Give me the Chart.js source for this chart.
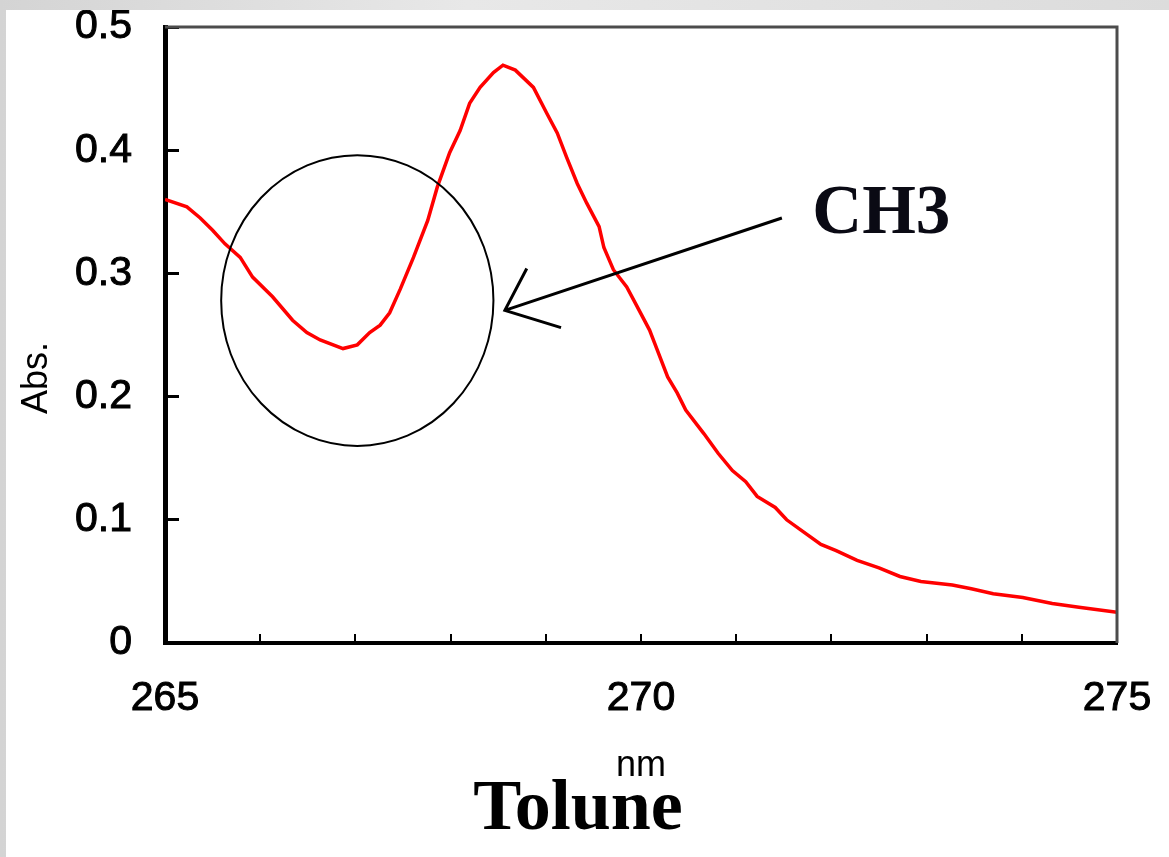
<!DOCTYPE html>
<html>
<head>
<meta charset="utf-8">
<script src="https://cdn.jsdelivr.net/npm/chart.js@4"></script>
<style>
  html, body { margin: 0; padding: 0; }
  body {
    width: 1169px; height: 857px; overflow: hidden;
    background: linear-gradient(90deg, #d4d4d4, #e8e8e8 40%, #dcdcdc);
    position: relative;
  }
  #wrap {
    position: absolute; left: 6px; top: 10px;
    width: 1163px; height: 847px; background: #fff;
  }
</style>
</head>
<body>
<div id="wrap"><canvas id="specChart" width="1163" height="847"></canvas></div>
<script>
// Spectrum (nm, absorbance)
const wavelengths = [
  265.00, 265.23, 265.37, 265.50, 265.63, 265.79, 265.92, 266.13, 266.34, 266.49,
  266.63, 266.87, 267.02, 267.15, 267.26, 267.36, 267.47, 267.61, 267.76, 267.86,
  267.99, 268.10, 268.20, 268.31, 268.45, 268.55, 268.68, 268.87, 269.01, 269.12,
  269.22, 269.33, 269.43, 269.56, 269.61, 269.71, 269.85, 269.96, 270.09, 270.14,
  270.28, 270.38, 270.47, 270.66, 270.81, 270.96, 271.10, 271.22, 271.41, 271.53,
  271.71, 271.89, 272.05, 272.27, 272.50, 272.72, 272.94, 273.27, 273.47, 273.70,
  274.01, 274.32, 274.60, 275.00
];
const absorbance = [
  0.360, 0.354, 0.345, 0.335, 0.324, 0.313, 0.297, 0.281, 0.262, 0.252,
  0.246, 0.239, 0.242, 0.252, 0.258, 0.268, 0.287, 0.313, 0.343, 0.370,
  0.398, 0.416, 0.438, 0.451, 0.463, 0.469, 0.465, 0.451, 0.430, 0.414,
  0.394, 0.373, 0.357, 0.338, 0.321, 0.303, 0.289, 0.273, 0.254, 0.244,
  0.216, 0.203, 0.189, 0.170, 0.154, 0.140, 0.131, 0.119, 0.110, 0.100,
  0.090, 0.080, 0.075, 0.067, 0.061, 0.054, 0.050, 0.047, 0.044, 0.040,
  0.037, 0.032, 0.029, 0.025
];
const xLabelled = [265, 270, 275];
const yLabels = ['0', '0.1', '0.2', '0.3', '0.4', '0.5'];

// annotation: circle round the CH3 dip and the arrow pointing at it (data units)
const circle = { x: 267.02, y: 0.278, rx: 1.43, ry: 0.118 };
const arrowTip = { x: 268.57, y: 0.270 };
const arrowTail = { x: 271.48, y: 0.345 };
const barbUp = { x: 268.80, y: 0.304 };
const barbDown = { x: 269.16, y: 0.256 };
const ch3Anchor = { x: 271.80, y: 0.333 };

const tickFont = { family: '"Liberation Sans", Arial, sans-serif', size: 41 };

function fixBox(height, width) {
  return s => {
    if (height) s.height = height;
    if (width) s.width = width;
    s.paddingLeft = s.paddingRight = s.paddingTop = s.paddingBottom = 0;
  };
}

const annotations = {
  id: 'annotations',
  afterDraw(chart) {
    const ctx = chart.ctx;
    const xs = chart.scales.x, ys = chart.scales.y;
    const area = chart.chartArea;
    const px = v => xs.getPixelForValue(v);
    const py = v => ys.getPixelForValue(v);

    ctx.save();
    // top and right frame
    ctx.strokeStyle = '#4c4c4c';
    ctx.lineWidth = 3;
    ctx.beginPath();
    ctx.moveTo(area.left, area.top);
    ctx.lineTo(area.right, area.top);
    ctx.lineTo(area.right, area.bottom);
    ctx.stroke();

    // circle
    ctx.strokeStyle = '#000';
    ctx.lineWidth = 2;
    ctx.beginPath();
    ctx.ellipse(px(circle.x), py(circle.y),
      px(circle.x + circle.rx) - px(circle.x),
      py(circle.y) - py(circle.y + circle.ry), 0, 0, Math.PI * 2);
    ctx.stroke();

    // arrow
    ctx.lineWidth = 3;
    ctx.beginPath();
    ctx.moveTo(px(arrowTail.x), py(arrowTail.y));
    ctx.lineTo(px(arrowTip.x), py(arrowTip.y));
    ctx.moveTo(px(barbUp.x), py(barbUp.y));
    ctx.lineTo(px(arrowTip.x), py(arrowTip.y));
    ctx.lineTo(px(barbDown.x), py(barbDown.y));
    ctx.stroke();

    // CH3 label
    ctx.fillStyle = '#0a0a14';
    ctx.font = 'bold 69px "Liberation Serif", "Times New Roman", serif';
    ctx.textAlign = 'left';
    ctx.textBaseline = 'alphabetic';
    ctx.fillText('CH3', px(ch3Anchor.x), py(ch3Anchor.y));

    // y axis title
    ctx.fillStyle = '#000';
    ctx.font = '36px "Liberation Sans", Arial, sans-serif';
    ctx.translate(31, 368);
    ctx.rotate(-Math.PI / 2);
    ctx.textAlign = 'center';
    ctx.textBaseline = 'middle';
    ctx.fillText('Abs.', 0, 0);
    ctx.restore();
  }
};

const ctx = document.getElementById('specChart').getContext('2d');
new Chart(ctx, {
  type: 'line',
  data: {
    datasets: [{
      data: wavelengths.map((w, i) => ({ x: w, y: absorbance[i] })),
      borderColor: '#ff0000',
      borderWidth: 3.5,
      pointRadius: 0,
      tension: 0,
      fill: false
    }]
  },
  options: {
    responsive: false,
    animation: false,
    devicePixelRatio: 1,
    layout: { padding: { left: 33, right: 52, top: 17, bottom: 0 } },
    plugins: {
      legend: { display: false },
      tooltip: { enabled: false },
      title: {
        display: true,
        position: 'bottom',
        text: 'Tolune',
        color: '#000',
        font: { family: '"Liberation Serif", "Times New Roman", serif', size: 72, weight: 'bold', lineHeight: 1 },
        padding: { top: 0, bottom: 11 }
      }
    },
    scales: {
      x: {
        type: 'linear',
        min: 265,
        max: 275,
        afterFit: fixBox(131, 0),
        ticks: {
          stepSize: 1,
          autoSkip: false,
          maxRotation: 0,
          padding: 40,
          color: '#000',
          textStrokeColor: '#000',
          textStrokeWidth: 1,
          font: tickFont,
          callback: v => xLabelled.includes(v) ? String(v) : ''
        },
        grid: { drawOnChartArea: false, drawTicks: true, tickLength: -9, color: '#000', lineWidth: 2 },
        border: { display: true, color: '#000', width: 4 },
        title: {
          display: true,
          text: 'nm',
          color: '#000',
          font: { family: '"Liberation Sans", Arial, sans-serif', size: 36, lineHeight: 1 },
          padding: { top: 0, bottom: -10 }
        }
      },
      y: {
        min: 0,
        max: 0.5,
        afterFit: fixBox(0, 126),
        ticks: {
          stepSize: 0.1,
          padding: 47,
          color: '#000',
          textStrokeColor: '#000',
          textStrokeWidth: 1,
          font: tickFont,
          callback: v => yLabels[Math.round(v * 10)]
        },
        grid: { drawOnChartArea: false, drawTicks: true, tickLength: -14, color: '#000', lineWidth: 3 },
        border: { display: true, color: '#000', width: 5 }
      }
    }
  },
  plugins: [annotations]
});
</script>
</body>
</html>
